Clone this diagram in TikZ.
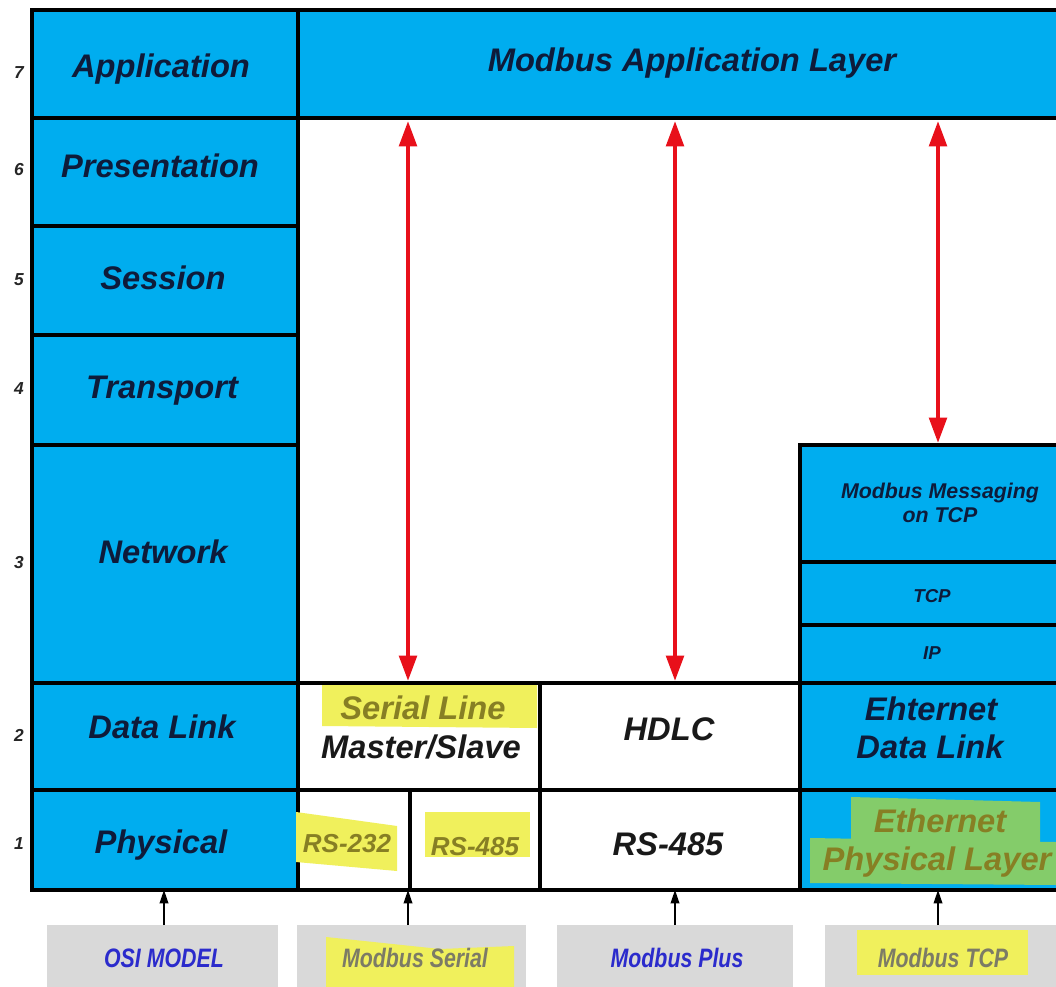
\documentclass[tikz,border=0pt]{standalone}
\usepackage{fontspec}
\setmainfont{Liberation Sans}
\usetikzlibrary{arrows.meta}
\definecolor{osiblue}{HTML}{00ADEF}
\definecolor{navy}{HTML}{0E1B3A}
\definecolor{hlyellow}{HTML}{F0F05C}
\definecolor{hlgreen}{HTML}{84CC6A}
\definecolor{olive}{HTML}{877F24}
\definecolor{greybox}{HTML}{D9D9D9}
\definecolor{labelblue}{HTML}{2B2BCC}
\definecolor{labelgrey}{HTML}{7C7B66}
\definecolor{arrowred}{HTML}{E8101A}
\newcommand\mkcell[6]{%
  \node[#1, minimum width={(#4-#2)*0.75pt}, minimum height={(#5-#3)*0.75pt}] (#6) at ({(#2+#4)/2},{(#3+#5)/2}) {};}
\tikzset{
  cellbase/.style={draw=black, line width=3.3pt, inner sep=0pt, outer sep=0pt},
  bluecell/.style={cellbase, fill=osiblue},
  whitecell/.style={cellbase, fill=white},
  greycell/.style={draw=none, fill=greybox, inner sep=0pt, outer sep=0pt},
  txt/.style={anchor=base, inner sep=0pt, text=navy, font=\bfseries\itshape\fontsize{#1}{#1}\selectfont},
  txt/.default=24.5,
  num/.style={anchor=base, inner sep=0pt, text=black!85, font=\bfseries\itshape\fontsize{13}{13}\selectfont},
  bot/.style={anchor=base, inner sep=0pt, font=\bfseries\itshape\fontsize{20}{20}\selectfont},
  redarrow/.style={draw=arrowred, line width=3.2pt, {Triangle[length=19pt,width=13pt]}-{Triangle[length=19pt,width=13pt]}},
  smallarrow/.style={draw=black, line width=1.1pt, -{Triangle[length=10pt,width=6.5pt]}},
}
\begin{document}
\begin{tikzpicture}[x=0.75pt,y=-0.75pt]
\clip (0,0) rectangle (1056,987);
\fill[white] (0,0) rectangle (1056,987);
% left OSI column
\mkcell{bluecell}{32}{10}{298}{118}{app}
\mkcell{bluecell}{32}{118}{298}{226}{pres}
\mkcell{bluecell}{32}{226}{298}{335}{sess}
\mkcell{bluecell}{32}{335}{298}{445}{trans}
\mkcell{bluecell}{32}{445}{298}{683}{net}
\mkcell{bluecell}{32}{683}{298}{790}{dl}
\mkcell{bluecell}{32}{790}{298}{890}{phy}
% application layer
\mkcell{bluecell}{298}{10}{1075}{118}{mal}
% right stack
\mkcell{bluecell}{800}{445}{1075}{562}{mmt}
\mkcell{bluecell}{800}{562}{1075}{625}{tcp}
\mkcell{bluecell}{800}{625}{1075}{683}{ip}
\mkcell{bluecell}{800}{683}{1075}{790}{edl}
\mkcell{bluecell}{800}{790}{1075}{890}{ephy}
% data link / physical white cells
\mkcell{whitecell}{298}{683}{540}{790}{sl}
\mkcell{whitecell}{540}{683}{800}{790}{hdlc}
\mkcell{whitecell}{298}{790}{410}{890}{rsa}
\mkcell{whitecell}{410}{790}{540}{890}{rsb}
\mkcell{whitecell}{540}{790}{800}{890}{rsc}
% grey label boxes
\mkcell{greycell}{47}{925}{278}{1000}{gosi}
\mkcell{greycell}{297}{925}{526}{1000}{gser}
\mkcell{greycell}{557}{925}{793}{1000}{gplus}
\mkcell{greycell}{825}{925}{1075}{1000}{gtcp}
% highlights
\fill[hlyellow] (322,685) -- (537,685) -- (537,728) -- (322,726) -- cycle;
\fill[hlyellow] (296,812) -- (397,826) -- (397,871) -- (296,862) -- cycle;
\fill[hlyellow] (425,812) -- (530,812) -- (530,857) -- (425,857) -- cycle;
\fill[hlgreen] (851,797) -- (1040,802) -- (1040,846) -- (851,842) -- cycle;
\fill[hlgreen] (810,838) -- (1056,842) -- (1056,885) -- (810,883) -- cycle;
\fill[hlyellow] (326,937) -- (440,949) -- (514,946) -- (514,987) -- (326,987) -- cycle;
\fill[hlyellow] (857,930) -- (1028,930) -- (1028,975) -- (857,975) -- cycle;
% layer numbers
\node[num] (n7) at (19,79) {7};
\node[num] (n6) at (19,176) {6};
\node[num] (n5) at (19,286) {5};
\node[num] (n4) at (19,394) {4};
\node[num] (n3) at (19,568) {3};
\node[num] (n2) at (19,741) {2};
\node[num] (n1) at (19,849) {1};
% OSI names
\node[txt] (tapp) at (161,78) {Application};
\node[txt] (tpres) at (160,178) {Presentation};
\node[txt] (tsess) at (163,290) {Session};
\node[txt] (ttrans) at (162,398) {Transport};
\node[txt] (tnet) at (163,563) {Network};
\node[txt] (tdl) at (162,738) {Data Link};
\node[txt] (tphy) at (161,853) {Physical};
\node[txt] (tmal) at (692,72) {Modbus Application Layer};
% serial
\node[txt, text=olive] (tsl) at (423,719) {Serial Line};
\node[txt, text=black!90] (tms) at (421,758) {Master/Slave};
\node[txt, text=black!90] (thdlc) at (669,740) {HDLC};
\node[txt=19.5, text=olive] (trsa) at (347,852) {RS-232};
\node[txt=19.5, text=olive] (trsb) at (475,855) {RS-485};
\node[txt, text=black!90] (trsc) at (668,855) {RS-485};
% TCP stack
\node[txt=16] (tmm1) at (940,498) {Modbus Messaging};
\node[txt=16] (tmm2) at (940,522) {on TCP};
\node[txt=14] (ttcp) at (932,602) {TCP};
\node[txt=14] (tip) at (932,659) {IP};
\node[txt] (teh) at (931,720) {Ehternet};
\node[txt] (tedl) at (930,758) {Data Link};
\node[txt, text=olive] (tet) at (940,832) {Ethernet};
\node[txt, text=olive] (tepl) at (937,870) {Physical Layer};
% bottom labels
\node[bot, text=labelblue] (losi) at (164,967) {\scalebox{0.8}[1]{OSI MODEL}};
\node[bot, text=labelgrey] (lser) at (415,967) {\scalebox{0.8}[1]{Modbus Serial}};
\node[bot, text=labelblue] (lplus) at (677,967) {\scalebox{0.8}[1]{Modbus Plus}};
\node[bot, text=labelgrey] (ltcp) at (943,967) {\scalebox{0.8}[1]{Modbus TCP}};
% red arrows
\coordinate (r1t) at (408,121);
\coordinate (r1b) at (408,681);
\coordinate (r2t) at (675,121);
\coordinate (r2b) at (675,681);
\coordinate (r3t) at (938,121);
\coordinate (r3b) at (938,443);
\draw[redarrow] (r1t) -- (r1b);
\draw[redarrow] (r2t) -- (r2b);
\draw[redarrow] (r3t) -- (r3b);
% small arrows
\draw[smallarrow] (gosi.north -| 164,0) -- (phy.south -| 164,0);
\draw[smallarrow] (gser.north -| 408,0) -- (rsa.south -| 408,0);
\draw[smallarrow] (gplus.north -| 675,0) -- (rsc.south -| 675,0);
\draw[smallarrow] (gtcp.north -| 938,0) -- (ephy.south -| 938,0);
\end{tikzpicture}
\end{document}
